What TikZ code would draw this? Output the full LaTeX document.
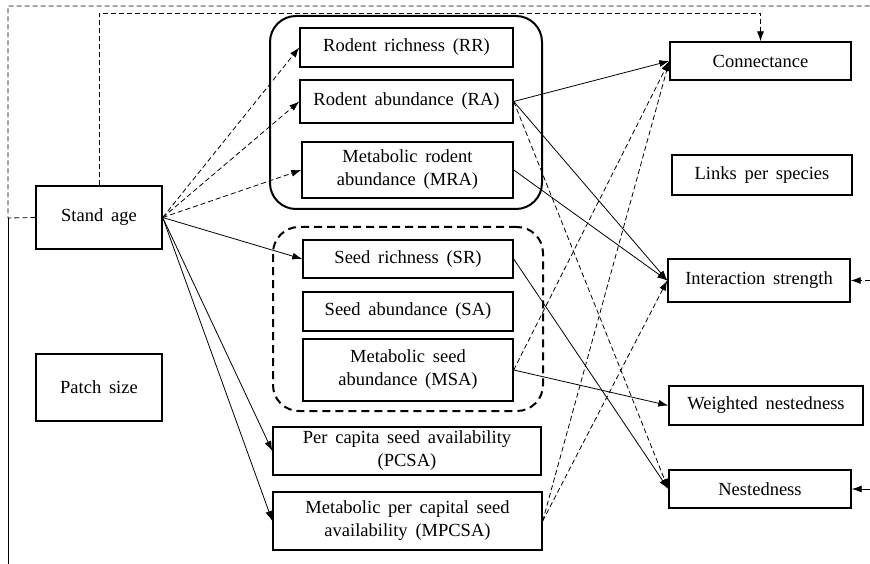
\documentclass[tikz,border=0pt]{standalone}
\usepackage{fontspec}
\setmainfont{Liberation Serif}
\usetikzlibrary{arrows.meta}
\begin{document}
\begin{tikzpicture}[x=1pt,y=-1pt,
  box/.style={draw, line width=1.4pt, align=center, inner sep=0pt, font={\fontsize{18.5}{23}\selectfont\spaceskip=0.42em\relax}},
  grp/.style={draw, line width=2pt, rounded corners=26pt, inner sep=0pt},
  conn/.style={line width=0.8pt, -{Latex[length=10pt,width=7pt]}},
  dconn/.style={conn, dash pattern=on 5pt off 3pt},
  dline/.style={line width=0.8pt, dash pattern=on 5pt off 3pt},
  sline/.style={line width=0.8pt}]
\useasboundingbox (0,0) rectangle (870,564);
% groups
\node[grp, minimum width=272pt, minimum height=193pt] (grpR) at (406,112.5) {};
\node[grp, dash pattern=on 8pt off 5pt, minimum width=270pt, minimum height=184pt] (grpS) at (408,319) {};
% nodes
\node[box, minimum width=126pt, minimum height=63pt] (stand) at (99,217.5) {Stand age};
\node[box, minimum width=126pt, minimum height=67pt] (patch) at (99,387.5) {Patch size};
\node[box, minimum width=213pt, minimum height=39pt] (rr) at (406.5,47.5) {Rodent richness (RR)};
\node[box, minimum width=213pt, minimum height=43pt] (ra) at (406.5,101.5) {Rodent abundance (RA)};
\node[box, minimum width=211pt, minimum height=56pt] (mra) at (407.5,170) {Metabolic rodent\\abundance (MRA)};
\node[box, minimum width=210pt, minimum height=38pt] (sr) at (408,259) {Seed richness (SR)};
\node[box, minimum width=210pt, minimum height=39pt] (sa) at (408,311.5) {Seed abundance (SA)};
\node[box, minimum width=210pt, minimum height=62pt] (msa) at (408,370) {Metabolic seed\\abundance (MSA)};
\node[box, minimum width=268pt, minimum height=48pt] (pcsa) at (407,451) {Per capita seed availability\\(PCSA)};
\node[box, minimum width=269pt, minimum height=58pt] (mpcsa) at (407.5,521) {Metabolic per capital seed\\availability (MPCSA)};
\node[box, minimum width=181pt, minimum height=38pt] (conn) at (760.5,61) {Connectance};
\node[box, minimum width=180pt, minimum height=40pt] (links) at (762,175) {Links per species};
\node[box, minimum width=182pt, minimum height=43pt] (is) at (759,280.5) {Interaction strength};
\node[box, minimum width=194pt, minimum height=39pt] (wn) at (766,405.5) {Weighted nestedness};
\node[box, minimum width=182pt, minimum height=38pt] (nest) at (760,489) {Nestedness};
% helper coordinates
\coordinate (top2) at (0,13);
\coordinate (lft) at (8,218);
\coordinate (tl) at (8,6);
\coordinate (tr) at (870,6);
\coordinate (bl) at (8,564);
% stand age arrows
\draw[dconn] (stand.east) -- (rr.west);
\draw[dconn] (stand.east) -- (ra.west);
\draw[dconn] (stand.east) -- (mra.west);
\draw[conn] (stand.east) -- (sr.west);
\draw[conn] (stand.east) -- (pcsa.west);
\draw[conn] (stand.east) -- (mpcsa.west);
% rodent arrows
\draw[conn] (ra.east) -- (conn.west);
\draw[conn] (ra.east) -- (is.west);
\draw[dconn] (ra.east) -- (nest.west);
\draw[conn] (mra.east) -- (is.west);
% seed arrows
\draw[conn] (sr.east) -- (nest.west);
\draw[dconn] (msa.east) -- (conn.west);
\draw[conn] (msa.east) -- (wn.west);
\draw[dconn] (mpcsa.east) -- (conn.west);
\draw[dconn] (mpcsa.east) -- (is.west);
% wrap-around lines
\draw[dconn] (stand.north) -- (stand.north |- top2) -| (conn.north);
\draw[dline] (stand.west) -- (lft) -- (tl) -- (tr);
\draw[sline] (lft) -- (bl);
\draw[dconn] (is.east -| tr) -- (is.east);
\draw[conn] (nest.east -| tr) -- (nest.east);
\end{tikzpicture}
\end{document}
